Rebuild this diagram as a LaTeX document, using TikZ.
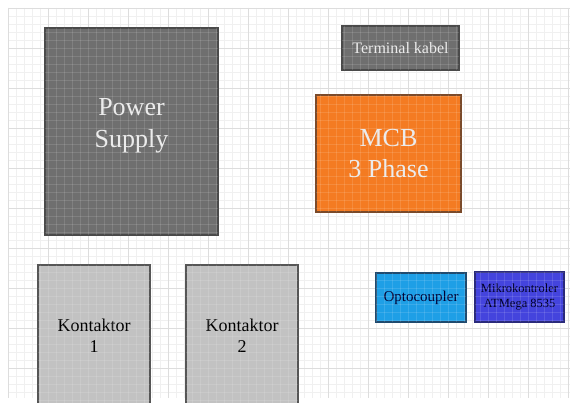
\documentclass[tikz,border=0pt]{standalone}
\usepackage{fontspec}
\setmainfont{Liberation Serif}
\definecolor{psgray}{HTML}{6F6F6F}
\definecolor{psedge}{HTML}{4A4A4A}
\definecolor{kgray}{HTML}{C2C2C2}
\definecolor{kedge}{HTML}{555555}
\definecolor{mcborange}{HTML}{F47B22}
\definecolor{mcbedge}{HTML}{7A4A2A}
\definecolor{optoblue}{HTML}{1E9FE6}
\definecolor{optoedge}{HTML}{1F4A6E}
\definecolor{mikroblue}{HTML}{4444DD}
\definecolor{mikroedge}{HTML}{2A2A7A}
\definecolor{gridminor}{HTML}{F0F0F0}
\definecolor{gridmajor}{HTML}{DDDDDD}
\tikzset{
  blockbox/.style={draw, line width=1.2pt, inner sep=0pt, align=center},
  lighttext/.style={text=white!92!black},
}
\begin{document}
\begin{tikzpicture}[x=1pt,y=-1pt]
\useasboundingbox (0,0) rectangle (573,403);
\fill[white] (0,0) rectangle (573,403);
% grid
\foreach \gx in {8,16,...,570} {\draw[gridminor, line width=0.4pt] (\gx,8) -- (\gx,398);}
\foreach \gy in {8,16,...,398} {\draw[gridminor, line width=0.4pt] (8,\gy) -- (570,\gy);}
\foreach \gx in {8,48,...,570} {\draw[gridmajor, line width=0.5pt] (\gx,8) -- (\gx,398);}
\foreach \gy in {8,48,...,398} {\draw[gridmajor, line width=0.5pt] (8,\gy) -- (570,\gy);}
% blocks
\node[blockbox, draw=psedge, fill=psgray, minimum width=173pt, minimum height=207pt] (ps) at (131.5,131.5) {};
\node[lighttext, align=center, inner sep=0pt, font=\fontsize{26}{32}\selectfont] (pstext) at (131.5,126) {Power\\Supply};
\node[blockbox, draw=psedge, fill=psgray, minimum width=117pt, minimum height=44pt, lighttext, font=\fontsize{16}{19}\selectfont] (tk) at (400.5,48) {Terminal kabel};
\node[blockbox, draw=mcbedge, fill=mcborange, minimum width=145pt, minimum height=117pt, lighttext, font=\fontsize{26}{31}\selectfont] (mcb) at (388.5,153.5) {MCB\\3 Phase};
\node[blockbox, draw=kedge, fill=kgray, minimum width=112pt, minimum height=142pt, font=\fontsize{18}{21}\selectfont, text=black] (k1) at (94,336) {Kontaktor\\1};
\node[blockbox, draw=kedge, fill=kgray, minimum width=112pt, minimum height=142pt, font=\fontsize{18}{21}\selectfont, text=black] (k2) at (242,336) {Kontaktor\\2};
\node[blockbox, draw=optoedge, fill=optoblue, minimum width=90pt, minimum height=49pt, font=\fontsize{15}{18}\selectfont, text=black!80!blue] (opto) at (421,297.5) {Optocoupler};
\node[blockbox, draw=mikroedge, fill=mikroblue, minimum width=89pt, minimum height=50pt, font=\fontsize{12.5}{15}\selectfont, text=black!85!blue] (mikro) at (519.5,297) {Mikrokontroler\\ATMega 8535};
% faint grid showing through the blocks
\begin{scope}
\clip (45,28) rectangle (218,235) (342,26) rectangle (459,70) (316,95) rectangle (461,212)
      (38,265) rectangle (150,403) (186,265) rectangle (298,403)
      (376,273) rectangle (466,322) (475,272) rectangle (564,322);
\foreach \gx in {8,16,...,570} {\draw[white, opacity=0.12, line width=0.4pt] (\gx,8) -- (\gx,403);}
\foreach \gy in {8,16,...,403} {\draw[white, opacity=0.12, line width=0.4pt] (8,\gy) -- (570,\gy);}
\end{scope}
\end{tikzpicture}
\end{document}
